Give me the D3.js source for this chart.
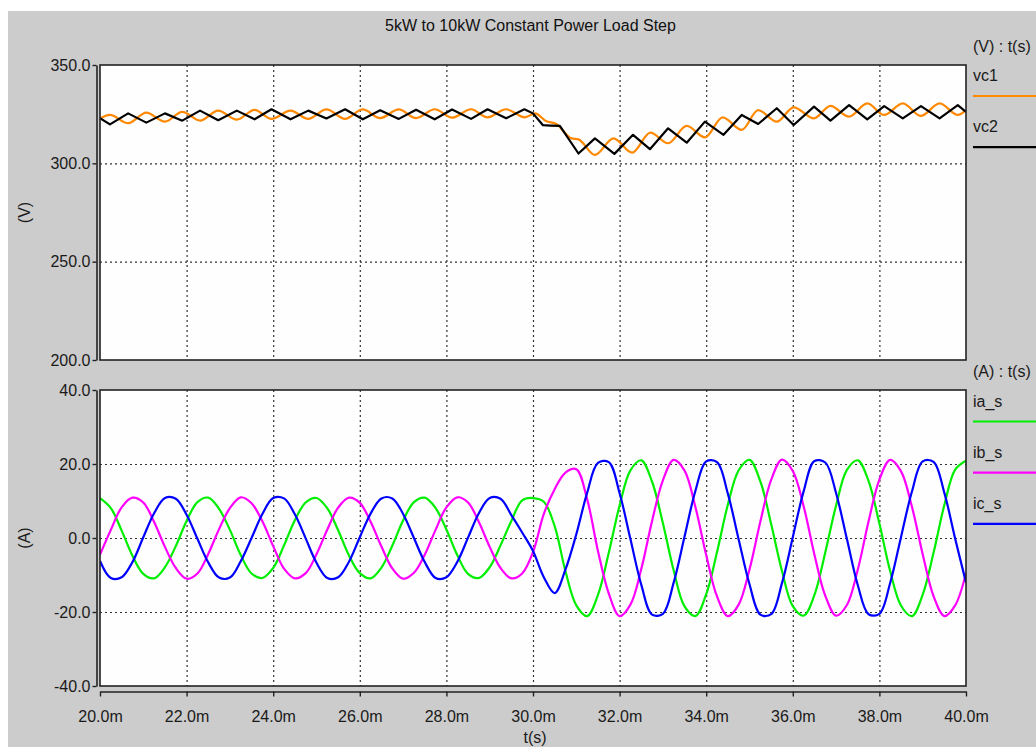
<!DOCTYPE html>
<html><head><meta charset="utf-8">
<script src="https://cdn.jsdelivr.net/npm/d3@7"></script>
<style>
html,body{margin:0;padding:0;background:#fff;}
svg{display:block;font-family:"Liberation Sans",Arial,Helvetica,sans-serif;}
</style></head><body>
<svg id="chart" width="1036" height="747"></svg>
<script>
// ---------------- data ----------------
const chartTitle = "5kW to 10kW Constant Power Load Step";
const xTickValues = [20,22,24,26,28,30,32,34,36,38,40];
const xTickLabels = ["20.0m","22.0m","24.0m","26.0m","28.0m","30.0m","32.0m","34.0m","36.0m","38.0m","40.0m"];
const xAxisTitle = "t(s)";
const vTickValues = [200,250,300,350];
const vTickLabels = ["200.0","250.0","300.0","350.0"];
const iTickValues = [-40,-20,0,20,40];
const iTickLabels = ["-40.0","-20.0","0.0","20.0","40.0"];
const vUnit = "(V)", iUnit = "(A)";
const vLegendHeader = "(V) : t(s)", iLegendHeader = "(A) : t(s)";
const vSeriesNames = ["vc1","vc2"];
const iSeriesNames = ["ia_s","ib_s","ic_s"];

// capacitor voltages (ms, V) – ripple extremes
const vc1Time = [20.00,20.23,20.65,21.07,21.50,21.90,22.31,22.73,23.16,23.57,23.96,24.40,24.81,25.23,25.66,26.07,26.47,26.90,27.30,27.73,28.13,28.57,28.95,29.38,29.81,30.05,30.30,30.54,30.89,31.05,31.43,31.86,32.29,32.71,33.12,33.55,33.97,34.38,34.82,35.20,35.63,36.02,36.49,36.87,37.30,37.72,38.11,38.54,38.96,39.39,39.81,40.00];
const vc1Values = [322.8,324.6,320.4,325.8,321.2,326.2,321.7,326.8,322.2,327.2,322.6,326.8,322.6,327.4,322.6,327.4,323.0,327.4,323.0,327.5,323.2,327.5,323.4,327.5,323.4,325.4,321.5,320.0,312.7,312.2,304.3,312.7,305.4,315.6,310.2,319.0,313.2,323.4,317.0,327.1,321.2,328.5,322.9,329.2,323.7,330.5,324.6,330.5,324.1,330.5,324.6,327.1];
const vc2Time = [20.00,20.23,20.65,21.07,21.50,21.90,22.31,22.73,23.16,23.57,23.96,24.40,24.81,25.23,25.66,26.07,26.47,26.90,27.30,27.73,28.13,28.57,28.95,29.38,29.80,30.00,30.23,30.40,30.62,31.05,31.43,31.88,32.31,32.70,33.12,33.55,33.97,34.40,34.82,35.20,35.63,36.02,36.49,36.87,37.30,37.72,38.11,38.54,38.96,39.39,39.81,40.00];
const vc2Values = [322.9,319.8,325.4,320.7,325.4,321.7,326.8,321.9,326.8,322.4,327.5,322.4,326.8,322.8,327.5,322.4,327.0,322.6,327.2,322.4,327.4,322.6,327.5,322.9,327.5,325.4,319.4,319.2,319.0,305.0,312.7,304.8,314.5,307.2,317.8,310.5,321.2,314.5,324.6,320.0,328.0,319.5,328.8,321.7,329.6,322.3,329.1,322.9,329.1,322.9,329.6,326.2];

// phase currents (ms, A)
const iTime = [20.00,20.25,20.50,20.75,21.00,21.25,21.50,21.75,22.00,22.25,22.50,22.75,23.00,23.25,23.50,23.75,24.00,24.25,24.50,24.75,25.00,25.25,25.50,25.75,26.00,26.25,26.50,26.75,27.00,27.25,27.50,27.75,28.00,28.25,28.50,28.75,29.00,29.25,29.50,29.75,30.00,30.25,30.50,30.75,31.00,31.25,31.50,31.75,32.00,32.25,32.50,32.75,33.00,33.25,33.50,33.75,34.00,34.25,34.50,34.75,35.00,35.25,35.50,35.75,36.00,36.25,36.50,36.75,37.00,37.25,37.50,37.75,38.00,38.25,38.50,38.75,39.00,39.25,39.50,39.75,40.00];
const iaValues = [10.8,8.1,2.0,-4.8,-9.7,-10.9,-7.9,-2.2,4.6,9.7, 10.9,7.9,2.2,-4.6,-9.6,-10.8,-8.1,-2.0,4.8,9.6, 10.8,8.0,2.1,-4.7,-9.5,-10.9,-8.0,-2.1,4.7,9.7, 10.9,8.1,2.3,-4.6,-9.7,-10.8,-7.9,-2.0,4.6,10.2, 10.8,9.8,3.2,-9.0,-18.2,-21.1,-15.4,-4.0,8.8,18.3, 21.0,15.2,4.0,-8.8,-18.5,-21.1,-15.2,-3.8,9.0,18.3, 21.1,15.3,3.8,-8.9,-18.4,-21.0,-15.4,-3.9,8.8,18.4, 21.0,15.4,3.9,-9.0,-18.3,-21.1,-15.3,-4.0,8.9,18.5, 20.9];
const ibValues = [-4.5,2.2,8.3,10.9,9.6,4.3,-2.4,-8.1,-11.0,-9.6, -4.3,2.4,8.1,11.0,9.4,4.5,-2.2,-8.3,-10.9,-9.5, -4.4,2.3,8.2,10.9,9.5,4.4,-2.3,-8.2,-11.0,-9.4, -4.5,2.2,8.3,11.0,9.6,4.3,-2.4,-8.1,-10.9,-9.6, -3.8,6.5,13.2,17.7,18.6,10.5,-3.5,-15.0,-21.1,-18.0, -8.4,4.6,15.6,21.1,18.2,8.4,-4.6,-15.8,-21.1,-18.0, -8.5,4.4,15.7,21.2,18.1,8.6,-4.5,-15.6,-21.0,-18.1, -8.6,4.5,15.8,21.1,18.0,8.5,-4.4,-15.7,-21.1,-18.2, -9.5];
const icValues = [-6.2,-10.8,-10.6,-6.5,0.2,6.7,10.8,10.6,6.3,-0.2, -6.6,-10.7,-10.7,-6.3,0.0,6.5,10.8,10.7,6.4,-0.1, -6.7,-10.8,-10.6,-6.4,0.2,6.6,10.7,10.7,6.5,0.0, -6.5,-10.8,-10.6,-6.5,0.1,6.7,10.8,10.6,6.2,1.5, -3.5,-10.6,-14.9,-8.5,1.0,12.2,20.3,20.5,12.1,-0.3, -12.6,-20.7,-20.5,-12.0,0.4,12.7,20.7,20.5,12.0,-0.4, -12.5,-20.7,-20.6,-12.2,0.2,12.6,20.8,20.4,12.1,-0.3, -12.7,-20.6,-20.5,-12.1,0.3,12.5,20.7,20.6,12.2,-0.2, -12.0];

// ---------------- layout ----------------
const svg = d3.select("#chart");
const FONT = 16;
const PL = 100, PR = 966;
const topY0 = 65, topY1 = 360, botY0 = 390, botY1 = 686;
const x = d3.scaleLinear().domain([20,40]).range([PL,PR]);
const yV = d3.scaleLinear().domain([200,350]).range([topY1,topY0]);
const yI = d3.scaleLinear().domain([-40,40]).range([botY1,botY0]);

svg.append("rect").attr("width",1036).attr("height",747).attr("fill","#ffffff");
svg.append("rect").attr("x",8).attr("y",11).attr("width",1028).attr("height",736).attr("fill","#cccccc");

svg.append("text").attr("x",530.5).attr("y",30.5).attr("text-anchor","middle")
  .attr("font-size",FONT).attr("fill","#111").text(chartTitle);

const defs = svg.append("defs");
function panel(id, yScale, y0, y1, gridVals){
  defs.append("clipPath").attr("id",id).append("rect")
    .attr("x",PL).attr("y",y0).attr("width",PR-PL).attr("height",y1-y0);
  svg.append("rect").attr("x",PL).attr("y",y0).attr("width",PR-PL).attr("height",y1-y0).attr("fill","#fefefe");
  const g = svg.append("g");
  g.selectAll("line.vg").data(xTickValues.slice(1,-1)).join("line")
    .attr("x1",d=>x(d)+0.5).attr("x2",d=>x(d)+0.5).attr("y1",y0).attr("y2",y1)
    .attr("stroke","#333").attr("stroke-width",1.2).attr("stroke-dasharray","2,3");
  g.selectAll("line.hg").data(gridVals).join("line")
    .attr("x1",PL).attr("x2",PR).attr("y1",d=>yScale(d)+0.5).attr("y2",d=>yScale(d)+0.5)
    .attr("stroke","#333").attr("stroke-width",1.2).attr("stroke-dasharray","2,3");
  return svg.append("g").attr("clip-path",`url(#${id})`);
}
function frame(y0,y1){
  svg.append("rect").attr("x",PL).attr("y",y0).attr("width",PR-PL).attr("height",y1-y0)
    .attr("fill","none").attr("stroke","#222").attr("stroke-width",1.6);
}

// top panel
const gTop = panel("clipTop", yV, topY0, topY1, [250,300]);
const lineOrange = d3.line().x(d=>x(d[0])).y(d=>yV(d[1])).curve(d3.curveMonotoneX);
const lineBlack = d3.line().x(d=>x(d[0])).y(d=>yV(d[1]));
gTop.append("path").datum(vc1Time.map((t,i)=>[t,vc1Values[i]]))
  .attr("d",lineOrange).attr("fill","none").attr("stroke","#ff8800").attr("stroke-width",2.2).attr("stroke-linejoin","round");
gTop.append("path").datum(vc2Time.map((t,i)=>[t,vc2Values[i]]))
  .attr("d",lineBlack).attr("fill","none").attr("stroke","#000").attr("stroke-width",2.2).attr("stroke-linejoin","round");
frame(topY0, topY1);

// bottom panel
const gBot = panel("clipBot", yI, botY0, botY1, [-20,0,20]);
const lineI = d3.line().x(d=>x(d[0])).y(d=>yI(d[1])).curve(d3.curveCatmullRom.alpha(0.5));
const iSeries = [iaValues, ibValues, icValues];
const iColors = ["#00ee00","#ff00ff","#0000ff"];
iSeries.forEach((vals,k)=>{
  gBot.append("path").datum(iTime.map((t,i)=>[t,vals[i]]))
    .attr("d",lineI).attr("fill","none").attr("stroke",iColors[k]).attr("stroke-width",2.2).attr("stroke-linejoin","round");
});
frame(botY0, botY1);

// axes
function styleAxis(g){
  g.select(".domain").attr("stroke","#222").attr("stroke-width",1.6);
  g.selectAll(".tick line").attr("stroke","#222").attr("stroke-width",1.4);
  g.selectAll(".tick text").attr("fill","#1a1a1a").attr("font-size",FONT)
    .attr("font-family","'Liberation Sans',Arial,sans-serif");
}
const axV = svg.append("g").attr("transform","translate(96.5,0)")
  .call(d3.axisLeft(yV).tickValues(vTickValues).tickSize(4).tickSizeOuter(0).tickPadding(2)
    .tickFormat((d,i)=>vTickLabels[i]));
styleAxis(axV);
const axI = svg.append("g").attr("transform","translate(96.5,0)")
  .call(d3.axisLeft(yI).tickValues(iTickValues).tickSize(4).tickSizeOuter(0).tickPadding(2)
    .tickFormat((d,i)=>iTickLabels[i]));
styleAxis(axI);
const axX = svg.append("g").attr("transform","translate(0,691.5)")
  .call(d3.axisBottom(x).tickValues(xTickValues).tickSize(5).tickSizeOuter(0).tickPadding(14)
    .tickFormat((d,i)=>xTickLabels[i]));
styleAxis(axX);

svg.append("text").attr("x",535).attr("y",743).attr("text-anchor","middle")
  .attr("font-size",FONT).attr("fill","#1a1a1a").text(xAxisTitle);
svg.append("text").attr("transform",`translate(30,${(topY0+topY1)/2}) rotate(-90)`)
  .attr("text-anchor","middle").attr("font-size",FONT).attr("fill","#1a1a1a").text(vUnit);
svg.append("text").attr("transform",`translate(30,${(botY0+botY1)/2}) rotate(-90)`)
  .attr("text-anchor","middle").attr("font-size",FONT).attr("fill","#1a1a1a").text(iUnit);

// legends
const LX = 973;
function legend(header, headerY, names, colors, firstY){
  svg.append("text").attr("x",LX).attr("y",headerY).attr("font-size",FONT).attr("fill","#1a1a1a").text(header);
  names.forEach((n,i)=>{
    const by = firstY + i*51.2;
    svg.append("text").attr("x",LX).attr("y",by).attr("font-size",FONT).attr("fill","#1a1a1a").text(n);
    svg.append("line").attr("x1",LX).attr("x2",1036).attr("y1",by+15).attr("y2",by+15)
      .attr("stroke",colors[i]).attr("stroke-width",2.2);
  });
}
legend(vLegendHeader, 52, vSeriesNames, ["#ff8800","#000000"], 81);
legend(iLegendHeader, 376.5, iSeriesNames, iColors, 406.5);
</script>
</body></html>
